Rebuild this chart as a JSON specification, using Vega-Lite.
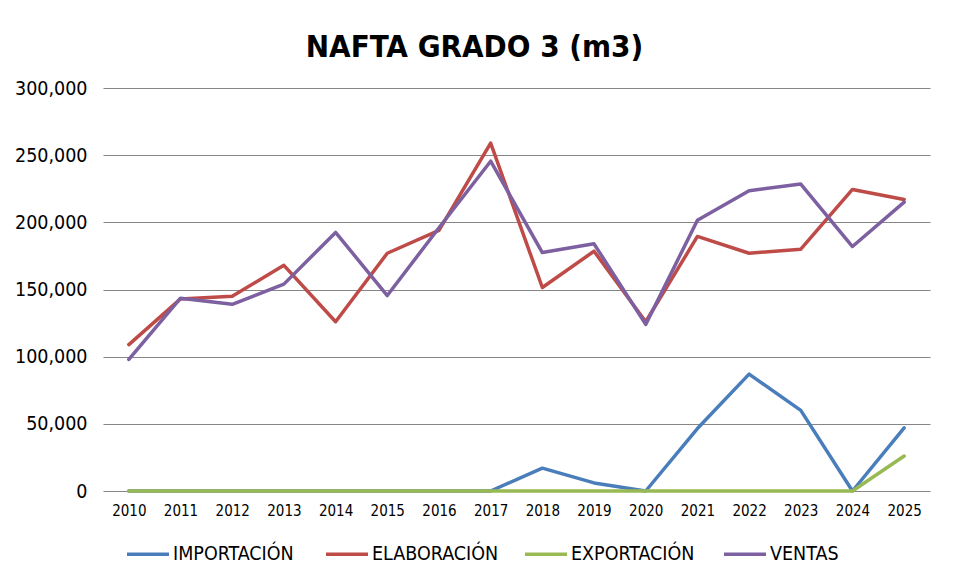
{
  "$schema": "https://vega.github.io/schema/vega-lite/v6.json",
  "width": 827,
  "height": 403,
  "autosize": {"type": "none"},
  "padding": {"left": 103, "top": 88, "right": 24, "bottom": 97},
  "background": "white",
  "title": {
    "text": "NAFTA GRADO 3 (m3)",
    "font": "DejaVu Sans Condensed, sans-serif",
    "fontSize": 31,
    "fontWeight": "bold",
    "color": "#000000",
    "anchor": "middle",
    "frame": "group",
    "dx": -42,
    "offset": 14
  },
  "data": {
    "values": [
      {"year": "2010", "serie": "IMPORTACIÓN", "value": 0},
      {"year": "2011", "serie": "IMPORTACIÓN", "value": 0},
      {"year": "2012", "serie": "IMPORTACIÓN", "value": 0},
      {"year": "2013", "serie": "IMPORTACIÓN", "value": 0},
      {"year": "2014", "serie": "IMPORTACIÓN", "value": 0},
      {"year": "2015", "serie": "IMPORTACIÓN", "value": 0},
      {"year": "2016", "serie": "IMPORTACIÓN", "value": 0},
      {"year": "2017", "serie": "IMPORTACIÓN", "value": 0},
      {"year": "2018", "serie": "IMPORTACIÓN", "value": 17000},
      {"year": "2019", "serie": "IMPORTACIÓN", "value": 6000},
      {"year": "2020", "serie": "IMPORTACIÓN", "value": 0},
      {"year": "2021", "serie": "IMPORTACIÓN", "value": 46500},
      {"year": "2022", "serie": "IMPORTACIÓN", "value": 87000},
      {"year": "2023", "serie": "IMPORTACIÓN", "value": 60000},
      {"year": "2024", "serie": "IMPORTACIÓN", "value": 0},
      {"year": "2025", "serie": "IMPORTACIÓN", "value": 47000},
      {"year": "2010", "serie": "ELABORACIÓN", "value": 109000},
      {"year": "2011", "serie": "ELABORACIÓN", "value": 143000},
      {"year": "2012", "serie": "ELABORACIÓN", "value": 145000},
      {"year": "2013", "serie": "ELABORACIÓN", "value": 168000},
      {"year": "2014", "serie": "ELABORACIÓN", "value": 126000},
      {"year": "2015", "serie": "ELABORACIÓN", "value": 177000},
      {"year": "2016", "serie": "ELABORACIÓN", "value": 194000},
      {"year": "2017", "serie": "ELABORACIÓN", "value": 259000},
      {"year": "2018", "serie": "ELABORACIÓN", "value": 151500},
      {"year": "2019", "serie": "ELABORACIÓN", "value": 178500},
      {"year": "2020", "serie": "ELABORACIÓN", "value": 126000},
      {"year": "2021", "serie": "ELABORACIÓN", "value": 189500},
      {"year": "2022", "serie": "ELABORACIÓN", "value": 177000},
      {"year": "2023", "serie": "ELABORACIÓN", "value": 180000},
      {"year": "2024", "serie": "ELABORACIÓN", "value": 224500},
      {"year": "2025", "serie": "ELABORACIÓN", "value": 217000},
      {"year": "2010", "serie": "EXPORTACIÓN", "value": 0},
      {"year": "2011", "serie": "EXPORTACIÓN", "value": 0},
      {"year": "2012", "serie": "EXPORTACIÓN", "value": 0},
      {"year": "2013", "serie": "EXPORTACIÓN", "value": 0},
      {"year": "2014", "serie": "EXPORTACIÓN", "value": 0},
      {"year": "2015", "serie": "EXPORTACIÓN", "value": 0},
      {"year": "2016", "serie": "EXPORTACIÓN", "value": 0},
      {"year": "2017", "serie": "EXPORTACIÓN", "value": 0},
      {"year": "2018", "serie": "EXPORTACIÓN", "value": 0},
      {"year": "2019", "serie": "EXPORTACIÓN", "value": 0},
      {"year": "2020", "serie": "EXPORTACIÓN", "value": 0},
      {"year": "2021", "serie": "EXPORTACIÓN", "value": 0},
      {"year": "2022", "serie": "EXPORTACIÓN", "value": 0},
      {"year": "2023", "serie": "EXPORTACIÓN", "value": 0},
      {"year": "2024", "serie": "EXPORTACIÓN", "value": 0},
      {"year": "2025", "serie": "EXPORTACIÓN", "value": 26000},
      {"year": "2010", "serie": "VENTAS", "value": 98000},
      {"year": "2011", "serie": "VENTAS", "value": 143500},
      {"year": "2012", "serie": "VENTAS", "value": 139000},
      {"year": "2013", "serie": "VENTAS", "value": 154000},
      {"year": "2014", "serie": "VENTAS", "value": 192500},
      {"year": "2015", "serie": "VENTAS", "value": 145500},
      {"year": "2016", "serie": "VENTAS", "value": 196000},
      {"year": "2017", "serie": "VENTAS", "value": 245500},
      {"year": "2018", "serie": "VENTAS", "value": 177500},
      {"year": "2019", "serie": "VENTAS", "value": 184000},
      {"year": "2020", "serie": "VENTAS", "value": 124000},
      {"year": "2021", "serie": "VENTAS", "value": 201500},
      {"year": "2022", "serie": "VENTAS", "value": 223500},
      {"year": "2023", "serie": "VENTAS", "value": 228500},
      {"year": "2024", "serie": "VENTAS", "value": 182000},
      {"year": "2025", "serie": "VENTAS", "value": 215000}
    ]
  },
  "mark": {"type": "line", "strokeWidth": 3.5, "strokeJoin": "round", "strokeCap": "round"},
  "encoding": {
    "x": {
      "field": "year",
      "type": "ordinal",
      "scale": {"type": "point", "padding": 0.5},
      "axis": {
        "title": null,
        "labelAngle": 0,
        "labelFont": "DejaVu Sans Condensed, sans-serif",
        "labelFontSize": 15,
        "labelColor": "#000000",
        "labelPadding": 12,
        "ticks": false,
        "domain": false,
        "grid": false
      }
    },
    "y": {
      "field": "value",
      "type": "quantitative",
      "scale": {"domain": [0, 300000], "nice": false},
      "axis": {
        "title": null,
        "format": ",d",
        "values": [0, 50000, 100000, 150000, 200000, 250000, 300000],
        "labelFont": "DejaVu Sans Condensed, sans-serif",
        "labelFontSize": 19.5,
        "labelColor": "#000000",
        "labelPadding": 16,
        "ticks": false,
        "domain": false,
        "grid": true,
        "gridColor": "#868686",
        "gridWidth": 1.2
      }
    },
    "color": {
      "field": "serie",
      "type": "nominal",
      "scale": {
        "domain": ["IMPORTACIÓN", "ELABORACIÓN", "EXPORTACIÓN", "VENTAS"],
        "range": ["#4A7EBB", "#BE4B48", "#98B954", "#7D60A0"]
      },
      "legend": {
        "title": null,
        "orient": "none",
        "legendX": 22,
        "legendY": 443,
        "direction": "horizontal",
        "columns": 4,
        "gridAlign": "all",
        "columnPadding": 19,
        "symbolType": "stroke",
        "symbolSize": 1764,
        "symbolStrokeWidth": 3.5,
        "labelFont": "DejaVu Sans Condensed, sans-serif",
        "labelFontSize": 19.5,
        "labelColor": "#000000",
        "labelOffset": 2,
        "labelLimit": 300
      }
    }
  },
  "config": {"view": {"stroke": null}}
}
